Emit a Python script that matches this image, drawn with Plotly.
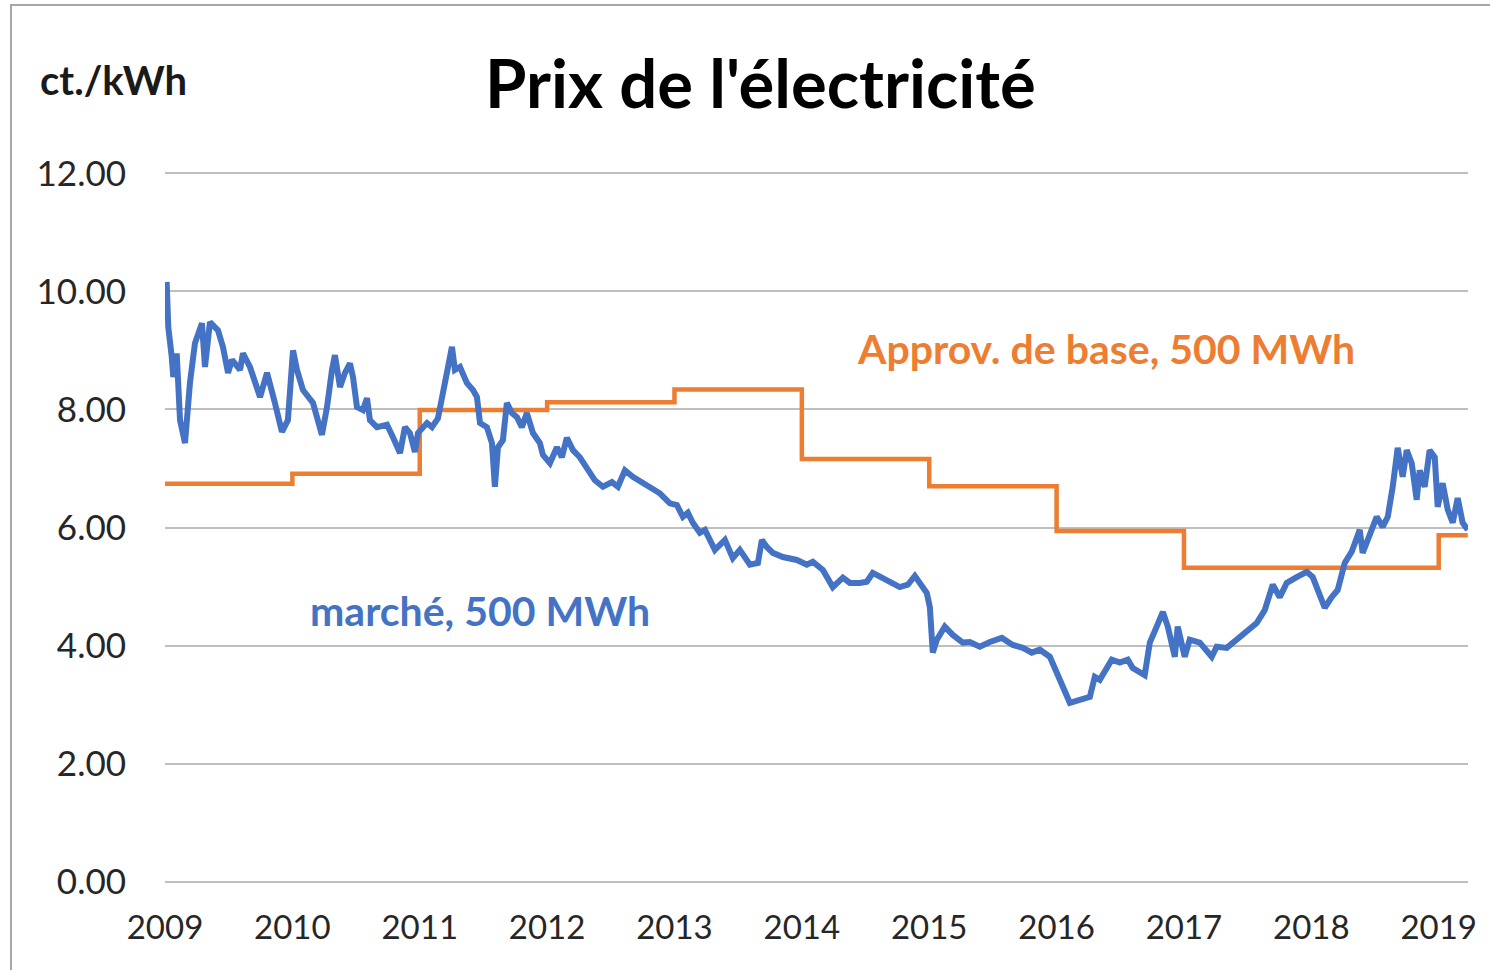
import plotly.graph_objects as go

# ---- data ----
market_years = [2009.013, 2009.026, 2009.053, 2009.065, 2009.092, 2009.118, 2009.157, 2009.196, 2009.235, 2009.290,
                2009.314, 2009.353, 2009.416, 2009.455, 2009.495, 2009.526, 2009.589, 2009.612, 2009.667, 2009.746,
                2009.801, 2009.824, 2009.863, 2009.918, 2009.965, 2010.005, 2010.036, 2010.083, 2010.162, 2010.232,
                2010.272, 2010.311, 2010.334, 2010.374, 2010.413, 2010.452, 2010.476, 2010.507, 2010.554, 2010.586,
                2010.609, 2010.664, 2010.743, 2010.790, 2010.845, 2010.884, 2010.923, 2010.962, 2010.986, 2011.057,
                2011.096, 2011.143, 2011.198, 2011.253, 2011.276, 2011.316, 2011.370, 2011.418, 2011.449, 2011.473,
                2011.527, 2011.567, 2011.590, 2011.614, 2011.653, 2011.684, 2011.724, 2011.763, 2011.802, 2011.841,
                2011.889, 2011.943, 2011.967, 2012.022, 2012.077, 2012.116, 2012.155, 2012.203, 2012.257, 2012.312,
                2012.375, 2012.438, 2012.509, 2012.556, 2012.611, 2012.673, 2012.752, 2012.830, 2012.885, 2012.964,
                2013.019, 2013.066, 2013.105, 2013.144, 2013.199, 2013.239, 2013.317, 2013.396, 2013.458, 2013.513,
                2013.592, 2013.655, 2013.686, 2013.725, 2013.772, 2013.851, 2013.961, 2014.039, 2014.086, 2014.165,
                2014.243, 2014.322, 2014.377, 2014.455, 2014.510, 2014.557, 2014.628, 2014.691, 2014.769, 2014.832,
                2014.887, 2014.942, 2014.981, 2015.005, 2015.028, 2015.060, 2015.122, 2015.185, 2015.264, 2015.319,
                2015.397, 2015.476, 2015.570, 2015.656, 2015.735, 2015.805, 2015.868, 2015.947, 2016.025, 2016.064,
                2016.104, 2016.182, 2016.261, 2016.300, 2016.339, 2016.433, 2016.496, 2016.559, 2016.598, 2016.692,
                2016.732, 2016.786, 2016.834, 2016.873, 2016.928, 2016.951, 2017.006, 2017.045, 2017.124, 2017.218,
                2017.257, 2017.336, 2017.414, 2017.493, 2017.571, 2017.634, 2017.697, 2017.752, 2017.807, 2017.885,
                2017.964, 2018.011, 2018.050, 2018.105, 2018.160, 2018.207, 2018.262, 2018.317, 2018.380, 2018.403,
                2018.443, 2018.513, 2018.560, 2018.600, 2018.639, 2018.678, 2018.717, 2018.749, 2018.788, 2018.827,
                2018.851, 2018.890, 2018.929, 2018.969, 2018.992, 2019.031, 2019.071, 2019.110, 2019.149, 2019.188,
                2019.228]
market_price = [10.16, 9.39, 8.89, 8.55, 8.95, 7.82, 7.43, 8.45, 9.12, 9.46,
                8.72, 9.48, 9.34, 9.06, 8.62, 8.84, 8.67, 8.95, 8.72, 8.21,
                8.62, 8.45, 8.11, 7.62, 7.82, 9.00, 8.67, 8.33, 8.11, 7.57,
                8.04, 8.67, 8.92, 8.38, 8.62, 8.78, 8.55, 8.04, 7.99, 8.19,
                7.82, 7.70, 7.74, 7.53, 7.26, 7.70, 7.60, 7.28, 7.60, 7.77,
                7.70, 7.85, 8.50, 9.06, 8.67, 8.72, 8.45, 8.33, 8.21, 7.77,
                7.70, 7.43, 6.69, 7.36, 7.48, 8.11, 7.94, 7.87, 7.70, 7.94,
                7.60, 7.43, 7.23, 7.09, 7.36, 7.19, 7.52, 7.31, 7.19, 7.02,
                6.80, 6.69, 6.77, 6.69, 6.97, 6.86, 6.75, 6.64, 6.58, 6.41,
                6.38, 6.18, 6.25, 6.08, 5.91, 5.96, 5.62, 5.79, 5.48, 5.62,
                5.37, 5.40, 5.79, 5.67, 5.57, 5.50, 5.45, 5.37, 5.42, 5.28,
                4.99, 5.15, 5.06, 5.06, 5.08, 5.23, 5.16, 5.08, 4.99, 5.03,
                5.18, 4.99, 4.89, 4.65, 3.88, 4.10, 4.32, 4.18, 4.05, 4.06,
                3.98, 4.06, 4.13, 4.01, 3.96, 3.88, 3.93, 3.81, 3.42, 3.25,
                3.03, 3.08, 3.13, 3.47, 3.42, 3.76, 3.71, 3.76, 3.62, 3.50,
                4.05, 4.32, 4.57, 4.32, 3.81, 4.32, 3.81, 4.10, 4.05, 3.81,
                3.98, 3.96, 4.10, 4.21, 4.38, 4.60, 5.03, 4.82, 5.06, 5.16,
                5.25, 5.16, 4.94, 4.64, 4.82, 4.94, 5.40, 5.59, 5.96, 5.57,
                5.79, 6.18, 6.01, 6.18, 6.69, 7.35, 6.86, 7.31, 7.09, 6.47,
                6.97, 6.69, 7.31, 7.19, 6.35, 6.75, 6.30, 6.08, 6.50, 6.08,
                5.96]

base_years = [2009, 2010, 2011, 2012, 2013, 2014, 2015, 2016, 2017, 2018, 2019, 2019.228]
base_price = [6.74, 6.91, 7.99, 8.12, 8.34, 7.16, 6.70, 5.94, 5.32, 5.32, 5.87, 5.87]

year_ticks = [2009, 2010, 2011, 2012, 2013, 2014, 2015, 2016, 2017, 2018, 2019]
price_ticks = [0, 2, 4, 6, 8, 10, 12]

title_text = "Prix de l'électricité"
unit_text = "ct./kWh"
market_label = "marché, 500 MWh"
base_label = "Approv. de base, 500 MWh"

BLUE = "#4472C4"
ORANGE = "#ED7D31"
FONT = "Lato"

# layout geometry (pixels)
W, H = 1490, 970
ML, MR, MT, MB = 165, 22, 171, 86
PW, PH = W - ML - MR, H - MT - MB


def px(x):
    return (x - ML) / PW


def py(y):
    return (H - MB - y) / PH


fig = go.Figure()
fig.add_trace(go.Scatter(x=base_years, y=base_price, mode="lines",
                         line=dict(color=ORANGE, width=4.5, shape="hv"),
                         name=base_label, hoverinfo="x+y"))
fig.add_trace(go.Scatter(x=market_years, y=market_price, mode="lines",
                         line=dict(color=BLUE, width=6),
                         name=market_label, hoverinfo="x+y"))

fig.update_layout(
    width=W, height=H,
    margin=dict(l=ML, r=MR, t=MT, b=MB),
    paper_bgcolor="white", plot_bgcolor="white",
    showlegend=False,
    font=dict(family=FONT, color="#262626"),
)
fig.update_xaxes(range=[2009, 2019.23], tickvals=year_ticks,
                 ticktext=[str(y) for y in year_ticks],
                 showgrid=False, zeroline=False, showline=False,
                 tickfont=dict(size=33, family=FONT, color="#262626"),
                 ticks="outside", ticklen=14, tickcolor="rgba(0,0,0,0)")
fig.update_yaxes(range=[-0.04, 12.04], tickvals=price_ticks, tickformat=".2f",
                 showgrid=True, gridcolor="#BFBFBF", gridwidth=2,
                 zeroline=False, showline=False,
                 tickfont=dict(size=35, family=FONT, color="#262626"),
                 ticks="outside", ticklen=31, tickcolor="rgba(0,0,0,0)")

# outer chart border (top and left visible)
fig.add_shape(type="rect", xref="paper", yref="paper",
              x0=px(11), x1=px(1500), y0=py(985), y1=py(5),
              line=dict(color="#A6A6A6", width=2), layer="below")

fig.add_annotation(text=f"<b>{title_text}</b>", xref="paper", yref="paper",
                   x=px(760), y=py(82), showarrow=False,
                   font=dict(size=67, family=FONT, color="#000000"),
                   xanchor="center", yanchor="middle")
fig.add_annotation(text=f"<b>{unit_text}</b>", xref="paper", yref="paper",
                   x=px(113), y=py(80), showarrow=False,
                   font=dict(size=40, family=FONT, color="#1a1a1a"),
                   xanchor="center", yanchor="middle")
fig.add_annotation(text=f"<b>{base_label}</b>", x=2016.39, y=9.04, showarrow=False,
                   font=dict(size=41, family=FONT, color=ORANGE),
                   xanchor="center", yanchor="middle")
fig.add_annotation(text=f"<b>{market_label}</b>", x=2011.47, y=4.59, showarrow=False,
                   font=dict(size=41, family=FONT, color=BLUE),
                   xanchor="center", yanchor="middle")

fig.write_html("out.html", config={"displayModeBar": False},
               post_script="document.body.style.margin='0px';")
